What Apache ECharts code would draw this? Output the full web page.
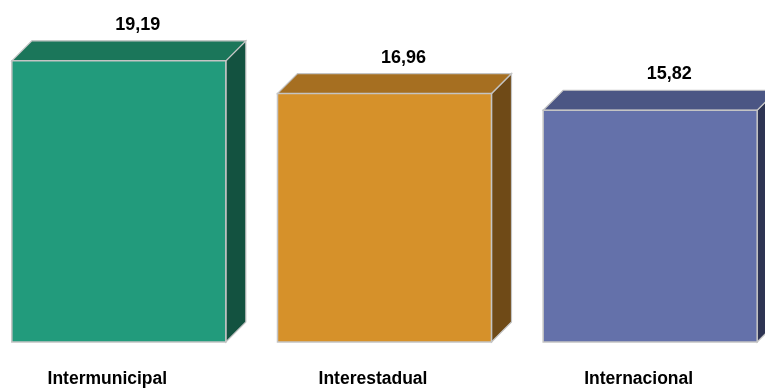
<!DOCTYPE html>
<html>
<head>
<meta charset="utf-8">
<script src="https://cdn.jsdelivr.net/npm/echarts@6/dist/echarts.min.js"></script>
<style>html,body{margin:0;padding:0;background:#fff}#c{width:765px;height:388px}</style>
</head>
<body>
<div id="c"></div>
<script>
var categories = ['Intermunicipal', 'Interestadual', 'Internacional'];
var values = [19.19, 16.96, 15.82];
var valueLabels = ['19,19', '16,96', '15,82'];

var frontColors = ['#229B7C', '#D6912A', '#6471AA'];
var topColors = ['#1B765A', '#A66F21', '#4B5684'];
var sideColors = ['#135240', '#6F4A17', '#2E3453'];
var DEPTH = 20;
var EDGE = '#C4C4C4';

var chart = echarts.init(document.getElementById('c'));
chart.setOption({
  animation: false,
  grid: { left: -14, width: 797, top: 49, bottom: 46, containLabel: false, outerBoundsMode: 'none' },
  xAxis: {
    type: 'category',
    data: categories,
    axisLine: { show: false },
    axisTick: { show: false },
    axisLabel: {
      margin: 28.5,
      padding: [0, 23, 0, 0],
      fontFamily: 'Liberation Sans, Arial, sans-serif',
      fontWeight: 'bold',
      fontSize: 17.5,
      color: '#000'
    }
  },
  yAxis: {
    type: 'value', min: 0, max: 20,
    show: false,
    splitLine: { show: false }
  },
  series: [{
    type: 'custom',
    data: values.map(function (v, i) { return [i, v]; }),
    renderItem: function (params, api) {
      var i = api.value(0);
      var topPt = api.coord([i, api.value(1)]);
      var basePt = api.coord([i, 0]);
      var w = api.size([1, 0])[0] * 0.8055;
      var xl = topPt[0] - w / 2, xr = topPt[0] + w / 2;
      var yt = topPt[1], yb = basePt[1];
      var d = DEPTH;
      var idx = params.dataIndex;
      return {
        type: 'group',
        children: [
          { type: 'polygon', shape: { points: [[xr, yt], [xr + d, yt - d], [xr + d, yb - d], [xr, yb]] },
            style: { fill: sideColors[idx], stroke: EDGE, lineWidth: 1.2 } },
          { type: 'polygon', shape: { points: [[xl, yt], [xl + d, yt - d], [xr + d, yt - d], [xr, yt]] },
            style: { fill: topColors[idx], stroke: EDGE, lineWidth: 1.2 } },
          { type: 'rect', shape: { x: xl, y: yt, width: w, height: yb - yt },
            style: { fill: frontColors[idx], stroke: EDGE, lineWidth: 1.5 } },
          { type: 'text', x: topPt[0] + 19, y: yt - 36,
            style: { text: valueLabels[idx], fill: '#000', align: 'center', verticalAlign: 'middle',
              font: 'bold 18px "Liberation Sans", Arial, sans-serif' } }
        ]
      };
    }
  }]
});
</script>
</body>
</html>
